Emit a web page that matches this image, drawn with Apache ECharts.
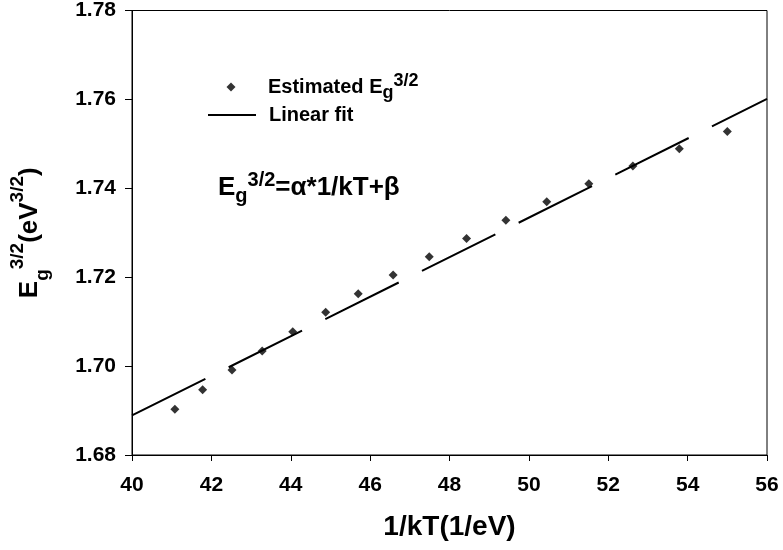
<!DOCTYPE html>
<html>
<head>
<meta charset="utf-8">
<script src="https://cdn.jsdelivr.net/npm/echarts@6/dist/echarts.min.js"></script>
<style>
  html, body { margin: 0; padding: 0; background: #fff; }
  #chart { width: 783px; height: 550px; }
</style>
</head>
<body>
<div id="chart"></div>
<script>
// Estimated band gap (Eg^{3/2}) against inverse thermal energy 1/kT
const invKT = [41.08, 41.78, 42.52, 43.28, 44.05, 44.88, 45.70, 46.58,
               47.49, 48.43, 49.42, 50.45, 51.51, 52.62, 53.79, 55.00];
const eg32 = [1.6903, 1.6947, 1.6991, 1.7034, 1.7077, 1.7121, 1.7163, 1.7205,
              1.7246, 1.7287, 1.7328, 1.7370, 1.7410, 1.7450, 1.7489, 1.7528];

// Linear fit endpoints over the axis range
const fitX = [40, 56];
const fitY = [1.6889, 1.7601];

// Axis ranges: [min, max, interval]
const xRange = [40, 56, 2];
const yRange = [1.68, 1.78, 0.02];

const seriesNames = ['Estimated', 'Linear fit'];

const FONT = "Arial, 'Liberation Sans', sans-serif";

// rich-text set with a subscript and superscript style
function richSet(base, small, lh, supLH, subLH) {
  const common = { fontFamily: FONT, fontWeight: 'bold', color: '#000' };
  return {
    b: Object.assign({ fontSize: base, lineHeight: lh }, common),
    sub: Object.assign({ fontSize: small, lineHeight: subLH, verticalAlign: 'bottom' }, common),
    sup: Object.assign({ fontSize: small, lineHeight: supLH, verticalAlign: 'top' }, common)
  };
}

const chart = echarts.init(document.getElementById('chart'), null, { renderer: 'canvas' });

const option = {
  animation: false,
  backgroundColor: '#fff',
  grid: {
    left: 131, right: 16, top: 9, bottom: 95,
    show: true, borderColor: '#000', borderWidth: 1, backgroundColor: 'transparent'
  },
  legend: [
    {
      data: [{ name: seriesNames[0], icon: 'diamond' }],
      left: 226.5, top: 72, padding: 0,
      itemWidth: 9, itemHeight: 9,
      itemStyle: { color: '#000' },
      formatter: () => '{b|Estimated E}{sub|g}{sup|3/2}',
      textStyle: { padding: [0, 0, 0, 27.5], rich: richSet(20, 18, 30, 21.8, 16.6) },
      selectedMode: false
    },
    {
      data: [{ name: seriesNames[1] }],
      left: 207, top: 105, padding: 0,
      itemWidth: 48, itemHeight: 14,
      itemStyle: { opacity: 0 },
      lineStyle: { type: 'solid', width: 2, color: '#000' },
      formatter: '{b|{name}}',
      textStyle: { padding: [0, 0, 0, 8], rich: richSet(20, 18, 30, 21.8, 16.6) },
      selectedMode: false
    }
  ],
  xAxis: {
    type: 'value',
    min: xRange[0], max: xRange[1], interval: xRange[2],
    name: '1/kT(1/eV)',
    nameLocation: 'middle',
    nameGap: 56,
    nameTextStyle: { fontFamily: FONT, fontWeight: 'bold', fontSize: 28, lineHeight: 32, color: '#000' },
    axisLine: { show: true, onZero: false, lineStyle: { color: '#000', width: 1 } },
    axisTick: { show: true, inside: false, length: 6, lineStyle: { color: '#000', width: 1 } },
    axisLabel: { margin: 18, fontFamily: FONT, fontWeight: 'bold', fontSize: 21, lineHeight: 24, color: '#000' },
    splitLine: { show: false }
  },
  yAxis: {
    type: 'value',
    min: yRange[0], max: yRange[1], interval: yRange[2],
    name: '{b|E}{sub|g}{sup|3/2}{b|(eV}{sup|3/2}{b|)}',
    nameLocation: 'middle',
    nameRotate: 90,
    nameGap: 80,
    nameTextStyle: { rich: richSet(26, 19, 44, 23.4, 19.2) },
    axisLine: { show: true, onZero: false, lineStyle: { color: '#000', width: 1 } },
    axisTick: { show: true, inside: false, length: 7, lineStyle: { color: '#000', width: 1 } },
    axisLabel: {
      margin: 16, fontFamily: FONT, fontWeight: 'bold', fontSize: 21, color: '#000',
      formatter: v => v.toFixed(2)
    },
    splitLine: { show: false }
  },
  graphic: [
    {
      type: 'text',
      x: 218, y: 188,
      silent: true,
      style: {
        text: '{b|E}{sub|g}{sup|3/2}{b|=α*1/kT+β}',
        rich: richSet(26, 20, 36, 19, 22.4),
        verticalAlign: 'middle',
        align: 'left'
      }
    }
  ],
  series: [
    {
      name: seriesNames[1],
      type: 'line',
      data: fitX.map((x, i) => [x, fitY[i]]),
      symbol: 'none',
      showSymbol: false,
      silent: true,
      itemStyle: { color: '#000' },
      lineStyle: { color: '#000', width: 2, type: [82, 26] },
      z: 2
    },
    {
      name: seriesNames[0],
      type: 'scatter',
      data: invKT.map((x, i) => [x, eg32[i]]),
      symbol: 'diamond',
      symbolSize: 9,
      silent: true,
      itemStyle: { color: '#000' },
      z: 3
    }
  ]
};

chart.setOption(option);
</script>
</body>
</html>
